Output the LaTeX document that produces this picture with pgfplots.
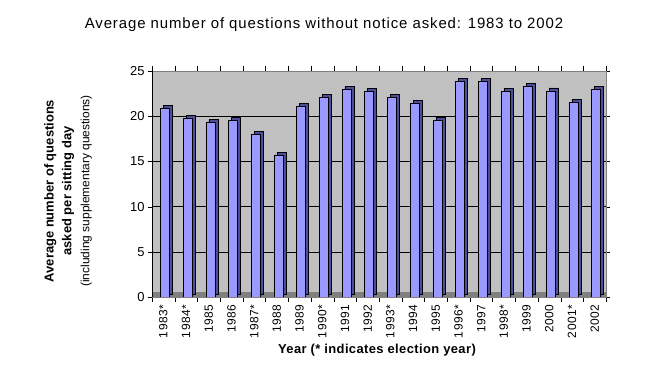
\documentclass[border=0pt]{standalone}
\usepackage{pgfplots}
\pgfplotsset{compat=1.18}
\usepackage{fontspec}
\setmainfont{Liberation Sans}
\definecolor{barface}{HTML}{9999FF}
\definecolor{barside}{HTML}{4D4D99}
\definecolor{wall}{HTML}{C0C0C0}
\definecolor{floorc}{HTML}{808080}
\pgfplotstableread{
idx value
0 20.9
1 19.8
2 19.3
3 19.5
4 18.0
5 15.7
6 21.1
7 22.1
8 23.0
9 22.75
10 22.1
11 21.45
12 19.5
13 23.85
14 23.85
15 22.75
16 23.3
17 22.8
18 21.5
19 22.95
}\datatable
\begin{document}
\begin{tikzpicture}
\path[use as bounding box] (0,0) rectangle (648bp,381bp);
\node[font=\fontsize{15}{17}\selectfont\addfontfeatures{LetterSpace=6}] at (324bp,356bp) {Average number of questions without notice asked: 1983 to 2002};
\node[font=\fontsize{13}{15}\selectfont\bfseries\addfontfeatures{LetterSpace=3}] at (377bp,31bp) {Year (* indicates election year)};
\node[rotate=90, align=center, font=\fontsize{13}{18}\selectfont] at (68bp,190bp)
  {\bfseries Average number of questions\\ \bfseries asked per sitting day\\ \fontsize{12}{16}\selectfont(including supplementary questions)};
\begin{axis}[
  at={(152bp,84bp)}, anchor=south west, scale only axis,
  width=454bp, height=226bp,
  xmin=-0.5, xmax=19.5, ymin=0, ymax=25,
  ytick={0,5,...,25},
  ymajorgrids, grid style={black, line width=0.6pt},
  xtick={0,...,19},
  xticklabels={1983*,1984*,1985,1986,1987*,1988,1989,1990*,1991,1992,1993*,1994,1995,1996*,1997,1998*,1999,2000,2001*,2002},
  x tick label style={rotate=90, anchor=east, font=\fontsize{12}{13}\selectfont\addfontfeatures{LetterSpace=5}},
  y tick label style={font=\fontsize{13}{14}\selectfont},
  /pgf/number format/assume math mode=true,
  major x tick style={draw=none},
  minor xtick={-0.5,0.5,...,19.5},
  minor x tick style={black},
  major y tick style={black},
  tick align=outside,
  major tick length=4bp, minor tick length=5bp,
  axis background/.style={fill=wall},
  axis line style={draw=floorc},
  ybar, bar width=9bp,
]
\fill[floorc] (rel axis cs:0,0) rectangle ([yshift=5bp]rel axis cs:1,0);
\addplot[bar shift=1.5bp, fill=barside, draw=black, line width=0.5pt, xshift=3bp, yshift=3bp] table[x=idx, y=value] {\datatable};
\addplot[bar shift=1.5bp, fill=barface, draw=black, line width=0.5pt] table[x=idx, y=value] {\datatable};
\draw[black, line width=0.6pt] (rel axis cs:0,0) -- (rel axis cs:0,1);
\draw[black, line width=0.6pt] (rel axis cs:0,0) -- (rel axis cs:1,0);
\end{axis}
\end{tikzpicture}
\end{document}
